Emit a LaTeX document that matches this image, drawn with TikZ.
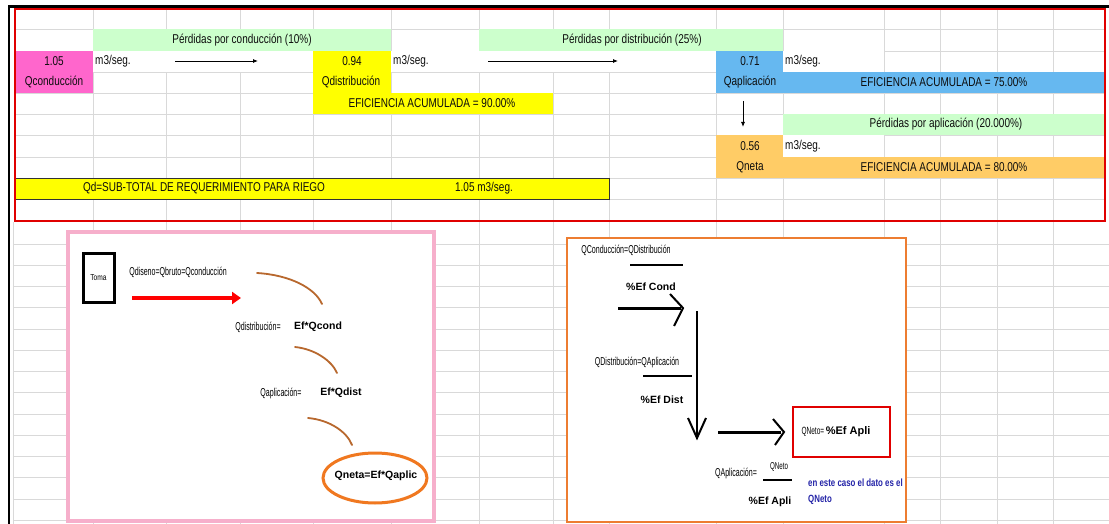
\documentclass[tikz,border=0pt]{standalone}
\usepackage{fontspec}
\setmainfont{Liberation Sans}
\newfontfamily\nar[FakeStretch=0.78]{Liberation Sans}
\newfontfamily\xnar[FakeStretch=0.62]{Liberation Sans}
\newfontfamily\bnar[FakeStretch=0.75]{Liberation Sans}
\usetikzlibrary{arrows.meta,shapes.geometric}
\definecolor{gridc}{HTML}{D9D9D9}
\definecolor{cpink}{HTML}{FF66CC}
\definecolor{cgreen}{HTML}{CCFFCC}
\definecolor{cyellow}{HTML}{FFFF00}
\definecolor{cblue}{HTML}{66B8F0}
\definecolor{corange}{HTML}{FFCC66}
\definecolor{cred}{HTML}{E00000}
\definecolor{pinkbox}{HTML}{F6AFCB}
\definecolor{orangebox}{HTML}{ED7D31}
\definecolor{arcc}{HTML}{B8682E}
\definecolor{ellc}{HTML}{F07820}
\definecolor{bluetxt}{HTML}{2424A8}
\tikzset{
  txt/.style={inner sep=0pt, font=\nar\fontsize{12.8}{14}\selectfont, text=black!95},
  tiny/.style={inner sep=0pt, font=\xnar\fontsize{11.4}{13}\selectfont, text=black},
  big/.style={inner sep=0pt, font=\bfseries\fontsize{10.5}{12}\selectfont, text=black},
  thinarrow/.style={-{Latex[length=5pt,width=4pt]}, line width=0.8pt, black},
  arcline/.style={arcc, line width=1.8pt, line cap=round},
  chev/.style={line width=2pt, line join=miter},
  bar/.style={line width=2pt},
}
\begin{document}
\begin{tikzpicture}[x=1pt,y=-1pt]
\useasboundingbox (0,0) rectangle (1109,524);
\fill[white] (0,0) rectangle (1109,524);
% ---- grid, upper part
\foreach \cx in {93,166,240,313,391,479,553,609,716,783,884,940,997,1053}
  \draw[gridc, line width=0.8pt] (\cx,8) -- (\cx,220);
\foreach \ry in {29,51,72,93,114,135,157,178,199}
  \draw[gridc, line width=0.8pt] (15,\ry) -- (1105,\ry);
% ---- grid, lower part
\foreach \cx in {13,93,166,240,313,391,479,553,609,716,783,884,940,997,1053}
  \draw[gridc, line width=0.8pt] (\cx,222) -- (\cx,524);
\foreach \k in {0,...,13}
  \draw[gridc, line width=0.8pt] (13,244+\k*21.25) -- (1109,244+\k*21.25);
% ---- cell fills
\fill[cgreen] (93,29) rectangle (391,51);
\fill[cgreen] (479,29) rectangle (783,51);
\fill[white] (93,51) rectangle (313,72);
\fill[white] (391,51) rectangle (716,72);
\fill[white] (783,51) rectangle (884,72);
\fill[cpink] (15,51) rectangle (93,93);
\fill[cyellow] (313,51) rectangle (391,114);
\fill[cyellow] (313,93) rectangle (553,114);
\fill[cblue] (716,51) rectangle (783,93);
\fill[cblue] (716,72) rectangle (1105,93);
\fill[cgreen] (783,114) rectangle (1105,135);
\fill[white] (783,135) rectangle (884,157);
\fill[corange] (716,135) rectangle (783,178);
\fill[corange] (716,157) rectangle (1105,178);
\draw[fill=cyellow, draw=black!80, line width=0.9pt] (15,178) rectangle (609,199);
% ---- frame lines
\draw[cred, line width=2.6pt] (15,9) rectangle (1105,221);
\draw[black, line width=2.5pt] (9,6.5) -- (1109,6.5);
\draw[black, line width=1.6pt] (9,5.5) -- (9,524);
% ---- spreadsheet texts
\node[txt] (p1) at (242,40) {Pérdidas por conducción (10\%)};
\node[txt] (p2) at (632,40) {Pérdidas por distribución (25\%)};
\node[txt] (v105) at (54,61) {1.05};
\node[txt] (qcon) at (54,82) {Qconducción};
\node[txt, anchor=west] (u1) at (95,61) {m3/seg.};
\coordinate (a1s) at (175,61);
\coordinate (a1e) at (258,61);
\draw[thinarrow] (a1s) -- (a1e);
\node[txt] (v094) at (352,61) {0.94};
\node[txt] (qdis) at (351,82) {Qdistribución};
\node[txt, anchor=west] (u2) at (393,61) {m3/seg.};
\coordinate (a2s) at (488,61);
\coordinate (a2e) at (618,61);
\draw[thinarrow] (a2s) -- (a2e);
\node[txt] (ef90) at (432,103) {EFICIENCIA ACUMULADA = 90.00\%};
\node[txt] (v071) at (750,61) {0.71};
\node[txt] (qapl) at (750,82) {Qaplicación};
\node[txt, anchor=west] (u3) at (785,61) {m3/seg.};
\node[txt] (ef75) at (944,82) {EFICIENCIA ACUMULADA = 75.00\%};
\coordinate (a3s) at (743,101);
\coordinate (a3e) at (743,127);
\draw[thinarrow] (a3s) -- (a3e);
\node[txt] (p3) at (946,124) {Pérdidas por aplicación (20.000\%)};
\node[txt] (v056) at (750,146) {0.56};
\node[txt] (qnet) at (750,167) {Qneta};
\node[txt, anchor=west] (u4) at (785,146) {m3/seg.};
\node[txt] (ef80) at (944,167) {EFICIENCIA ACUMULADA = 80.00\%};
\node[txt] (qd) at (204,188) {Qd=SUB-TOTAL DE REQUERIMIENTO PARA RIEGO};
\node[txt] (qdv) at (484,188) {1.05 m3/seg.};
% ---- pink box
\draw[pinkbox, fill=white, line width=4pt] (68,232) rectangle (434,521);
\node[draw=black, line width=3pt, minimum width=31pt, minimum height=49pt, inner sep=0pt,
      font=\nar\fontsize{8.5}{10}\selectfont] (toma) at (98.5,277.5) {Toma};
\node[tiny] (qdiseno) at (178,272) {Qdiseno=Qbruto=Qconducción};
\coordinate (ras) at (132,298);
\coordinate (rae) at (241,298);
\draw[red, line width=4.5pt, -{Triangle[length=9pt,width=12pt]}] (ras) -- (rae);
\coordinate (c1a) at (257,273);
\coordinate (c1b) at (322,304);
\draw[arcline] (c1a) .. controls (290,275) and (315,288) .. (c1b);
\node[tiny] (qdiseq) at (258,327) {Qdistribución=};
\node[big] (efqc) at (318,327) {Ef*Qcond};
\coordinate (c2a) at (295,347);
\coordinate (c2b) at (337,373);
\draw[arcline] (c2a) .. controls (315,349) and (332,361) .. (c2b);
\node[tiny] (qapeq) at (281,393) {Qaplicación=};
\node[big] (efqd) at (341,393) {Ef*Qdist};
\coordinate (c3a) at (308,418);
\coordinate (c3b) at (352,445);
\draw[arcline] (c3a) .. controls (330,420) and (347,432) .. (c3b);
\node[ellipse, draw=ellc, line width=3pt, minimum width=104pt, minimum height=50pt, inner sep=0pt] (ell) at (375,478) {};
\node[big] (qneta) at (376,476) {Qneta=Ef*Qaplic};
% ---- orange box
\draw[orangebox, fill=white, line width=2.5pt] (567,238) rectangle (906,522);
\node[tiny] (qcd) at (626,250) {QConducción=QDistribución};
\coordinate (b1a) at (630,265);
\coordinate (b1b) at (683,265);
\draw[bar] (b1a) -- (b1b);
\node[big] (efc) at (651,287) {\%Ef Cond};
\coordinate (h1a) at (618,308);
\coordinate (h1b) at (681,308);
\draw[line width=3pt] (h1a) -- (h1b);
\draw[chev] (670,294) -- (683,308) -- (674,326);
\coordinate (vta) at (697,311);
\coordinate (vtb) at (697,436);
\draw[line width=1.6pt] (vta) -- (vtb);
\draw[chev] (688,418) -- (697,438) -- (706,418);
\node[tiny] (qda) at (637,362) {QDistribución=QAplicación};
\coordinate (b2a) at (643,376);
\coordinate (b2b) at (692,376);
\draw[bar] (b2a) -- (b2b);
\node[big] (efd) at (662,400) {\%Ef Dist};
\coordinate (h2a) at (718,432);
\coordinate (h2b) at (781,432);
\draw[line width=3pt] (h2a) -- (h2b);
\draw[chev] (773,419) -- (784,432) -- (775,445);
\node[draw=cred, line width=2pt, minimum width=97pt, minimum height=50pt, inner sep=0pt] (redbox) at (841.5,432) {};
\node[inner sep=0pt] (qnetoeq) at (836,432) {{\xnar\fontsize{10.5}{12}\selectfont QNeto=}\,{\fontsize{11}{12}\selectfont\bfseries\%Ef Apli}};
\node[tiny] (qapeq2) at (736,473) {QAplicación=};
\node[inner sep=0pt, font=\xnar\fontsize{10}{12}\selectfont] (qneto2) at (779,467) {QNeto};
\coordinate (b3a) at (763,480);
\coordinate (b3b) at (792,480);
\draw[line width=2.5pt] (b3a) -- (b3b);
\node[big] (efa) at (770,502) {\%Ef Apli};
\node[inner sep=0pt, anchor=west, text=bluetxt, font=\bnar\bfseries\fontsize{10.5}{12}\selectfont] (note1) at (808,483) {en este caso el dato es el};
\node[inner sep=0pt, anchor=west, text=bluetxt, font=\bnar\bfseries\fontsize{10.5}{12}\selectfont] (note2) at (808,500) {QNeto};
\end{tikzpicture}
\end{document}
